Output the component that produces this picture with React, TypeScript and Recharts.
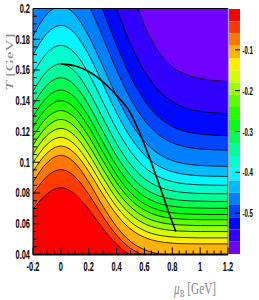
import React from 'react';
import { ComposedChart, Area, Line, XAxis, YAxis, CartesianGrid, ReferenceLine, BarChart, Bar } from 'recharts';

// mu_B grid [GeV]
const MU = [-0.2, -0.1, 0, 0.1, 0.2, 0.3, 0.4, 0.5, 0.6, 0.7, 0.8, 0.9, 1.0, 1.1, 1.2];

// contour lines T(mu) [GeV], from lowest level (red side) to highest (violet side)
const C1 = [0.0694, 0.0794, 0.0834, 0.0794, 0.0694, 0.0572, 0.0467, 0.0396, 0.0357, 0.0339, 0.0333, 0.0331, 0.033, 0.033, 0.033];
const C2 = [0.0791, 0.0907, 0.0952, 0.0907, 0.0791, 0.065, 0.0526, 0.0441, 0.0394, 0.0372, 0.0364, 0.0361, 0.036, 0.036, 0.036];
const C3 = [0.0871, 0.0996, 0.1045, 0.0996, 0.0871, 0.0717, 0.0581, 0.0485, 0.0431, 0.0405, 0.0395, 0.0391, 0.039, 0.039, 0.039];
const C4 = [0.094, 0.1059, 0.1105, 0.1059, 0.094, 0.0793, 0.066, 0.0566, 0.0512, 0.0485, 0.0474, 0.047, 0.0469, 0.0469, 0.0469];
const C5 = [0.0996, 0.1116, 0.1162, 0.1116, 0.0996, 0.0847, 0.0711, 0.0613, 0.0555, 0.0526, 0.0514, 0.051, 0.0508, 0.0508, 0.0508];
const C6 = [0.1054, 0.1174, 0.122, 0.1174, 0.1054, 0.0903, 0.0764, 0.0662, 0.0601, 0.057, 0.0556, 0.0551, 0.0549, 0.0549, 0.0549];
const C7 = [0.1111, 0.1232, 0.1278, 0.1232, 0.1111, 0.0958, 0.0816, 0.071, 0.0645, 0.0611, 0.0596, 0.0591, 0.0588, 0.0588, 0.0588];
const C8 = [0.1168, 0.129, 0.1336, 0.129, 0.1168, 0.1013, 0.0867, 0.0757, 0.0689, 0.0652, 0.0635, 0.0629, 0.0626, 0.0626, 0.0626];
const C9 = [0.1229, 0.1353, 0.14, 0.1353, 0.1229, 0.107, 0.0918, 0.0803, 0.0729, 0.069, 0.0671, 0.0664, 0.0661, 0.066, 0.066];
const C10 = [0.1296, 0.1422, 0.147, 0.1422, 0.1296, 0.1133, 0.0977, 0.0856, 0.0778, 0.0734, 0.0714, 0.0705, 0.0702, 0.0701, 0.0701];
const C11 = [0.1372, 0.1501, 0.155, 0.1501, 0.1372, 0.1204, 0.1041, 0.0914, 0.083, 0.0783, 0.076, 0.075, 0.0747, 0.0745, 0.0745];
const C12 = [0.1461, 0.1591, 0.164, 0.1591, 0.1461, 0.129, 0.1121, 0.0986, 0.0894, 0.0841, 0.0814, 0.0802, 0.0797, 0.0795, 0.0795];
const C13 = [0.1575, 0.171, 0.176, 0.171, 0.1575, 0.1396, 0.1217, 0.1071, 0.0968, 0.0907, 0.0874, 0.0859, 0.0853, 0.0851, 0.085];
const C14 = [0.1699, 0.1838, 0.189, 0.1838, 0.1699, 0.1512, 0.1321, 0.1162, 0.1048, 0.0977, 0.0939, 0.092, 0.0912, 0.0909, 0.0908];
const C15 = [0.1821, 0.1963, 0.2015, 0.1963, 0.1821, 0.1628, 0.1429, 0.126, 0.1135, 0.1056, 0.1011, 0.0989, 0.0979, 0.0975, 0.0973];
const C16 = [0.2024, 0.2175, 0.223, 0.2175, 0.2024, 0.1817, 0.1601, 0.1413, 0.1273, 0.118, 0.1127, 0.1099, 0.1086, 0.1081, 0.1078];
const C17 = [0.2213, 0.2372, 0.243, 0.2372, 0.2213, 0.1994, 0.1763, 0.1558, 0.1402, 0.1296, 0.1233, 0.1199, 0.1183, 0.1176, 0.1172];
const C18 = [0.2488, 0.2658, 0.272, 0.2658, 0.2488, 0.225, 0.1997, 0.1769, 0.1591, 0.1469, 0.1394, 0.1352, 0.1331, 0.1322, 0.1316];
const C19 = [0.2952, 0.3134, 0.32, 0.3134, 0.2952, 0.2693, 0.2407, 0.214, 0.189, 0.172, 0.162, 0.157, 0.1545, 0.1532, 0.1523];
const CONTOURS = [C1, C2, C3, C4, C5, C6, C7, C8, C9, C10, C11, C12, C13, C14, C15, C16, C17, C18, C19];

// band colours from level 0 (red, top of colour bar) to -0.6 (violet)
const BAND_COLORS = [
  '#ff0000', '#ff3b00', '#ff7700', '#ffb200', '#ffee00',
  '#d4ff00', '#99ff00', '#5eff00', '#22ff00', '#00ff19',
  '#00ff55', '#00ff99', '#00ffcc', '#00f7ff', '#00bbff',
  '#0080ff', '#0044ff', '#0008ff', '#3300ff', '#7000ff',
];

// thick black curve
const THICK_MU = [0, 0.1, 0.2, 0.3, 0.4, 0.5, 0.6, 0.7, 0.8, 0.825];
const THICK_T = [0.164, 0.1627, 0.159, 0.1525, 0.1435, 0.132, 0.1115, 0.087, 0.061, 0.055];

const X_MAJOR = [-0.2, 0, 0.2, 0.4, 0.6, 0.8, 1, 1.2];
const X_TICKS = [-0.2, -0.15, -0.1, -0.05, 0, 0.05, 0.1, 0.15, 0.2, 0.25, 0.3, 0.35, 0.4, 0.45, 0.5, 0.55, 0.6, 0.65, 0.7, 0.75, 0.8, 0.85, 0.9, 0.95, 1, 1.05, 1.1, 1.15, 1.2];
const Y_MAJOR = [0.04, 0.06, 0.08, 0.1, 0.12, 0.14, 0.16, 0.18, 0.2];
const Y_TICKS = [0.04, 0.045, 0.05, 0.055, 0.06, 0.065, 0.07, 0.075, 0.08, 0.085, 0.09, 0.095, 0.1, 0.105, 0.11, 0.115, 0.12, 0.125, 0.13, 0.135, 0.14, 0.145, 0.15, 0.155, 0.16, 0.165, 0.17, 0.175, 0.18, 0.185, 0.19, 0.195, 0.2];

const CB_LEVELS = [0, -0.03, -0.06, -0.09, -0.12, -0.15, -0.18, -0.21, -0.24, -0.27, -0.3, -0.33, -0.36, -0.39, -0.42, -0.45, -0.48, -0.51, -0.54, -0.57, -0.6];
const CB_TICKS = [-0.1, -0.2, -0.3, -0.4, -0.5];

const TICK_FONT = "'Liberation Sans', Arial, sans-serif";
const TITLE_FONT = "'Liberation Serif', 'DejaVu Serif', serif";

const near = (a: number, b: number) => Math.abs(a - b) < 1e-6;

const rows: any[] = MU.map((mu, i) => {
  const r: any = { mu };
  CONTOURS.forEach((c, k) => { r['c' + (k + 1)] = c[i]; });
  return r;
});
THICK_MU.forEach((mu, j) => {
  const ex = rows.find((r) => near(r.mu, mu));
  if (ex) ex.thick = THICK_T[j];
  else rows.push({ mu, thick: THICK_T[j] });
});
rows.sort((a, b) => a.mu - b.mu);

const cbRow: any = { name: 'cb' };
for (let j = 0; j < CB_LEVELS.length - 1; j++) cbRow['b' + j] = CB_LEVELS[j + 1] - CB_LEVELS[j];
const cbData = [cbRow];

function XTick(props: any) {
  const { x, y, payload } = props;
  const v = payload.value;
  const major = X_MAJOR.some((m) => near(m, v));
  return (
    <g>
      <line x1={x} x2={x} y1={y} y2={y - (major ? 7 : 4)} stroke="#000" strokeWidth={1} />
      {major && (
        <text transform={`translate(${x},${y + 16.5}) scale(0.62,1)`} textAnchor="middle" fontSize={12} fontWeight="bold" fontFamily={TICK_FONT} fill="#000">
          {String(v)}
        </text>
      )}
    </g>
  );
}

function YTick(props: any) {
  const { x, y, payload } = props;
  const v = payload.value;
  const major = Y_MAJOR.some((m) => near(m, v));
  return (
    <g>
      <line x1={x} x2={x + (major ? 7 : 4)} y1={y} y2={y} stroke="#000" strokeWidth={1} />
      {major && (
        <text transform={`translate(${x - 3},${y + 4.3}) scale(0.62,1)`} textAnchor="end" fontSize={12} fontWeight="bold" fontFamily={TICK_FONT} fill="#000">
          {String(v)}
        </text>
      )}
    </g>
  );
}

function CbTick(props: any) {
  const { x, y, payload } = props;
  return (
    <g>
      <line x1={x - 5} x2={x} y1={y} y2={y} stroke="#000" strokeWidth={1} />
      <text transform={`translate(${x + 2.5},${y + 4}) scale(0.55,1)`} textAnchor="start" fontSize={11} fontWeight="bold" fontFamily={TICK_FONT} fill="#000">
        {String(payload.value)}
      </text>
    </g>
  );
}

export default function App() {
  const areas = [];
  for (let k = CONTOURS.length; k >= 1; k--) {
    areas.push(
      <Area
        key={'c' + k}
        dataKey={'c' + k}
        type="monotone"
        stroke="#000"
        strokeWidth={0.8}
        fill={BAND_COLORS[k - 1]}
        fillOpacity={1}
        dot={false}
        activeDot={false}
        connectNulls
        isAnimationActive={false}
      />
    );
  }
  return (
    <div style={{ position: 'absolute', left: 0, top: 0, width: 259, height: 300, background: '#fff' }}>
      <div style={{ position: 'absolute', left: 0, top: 0 }}>
        <ComposedChart width={259} height={300} data={rows} margin={{ top: 8.5, right: 31, bottom: 15.5, left: 8 }}>
          <CartesianGrid horizontal={false} vertical={false} fill={BAND_COLORS[19]} />
          {areas}
          <Line dataKey="thick" type="monotone" stroke="#000" strokeWidth={1.6} dot={false} activeDot={false} connectNulls isAnimationActive={false} />
          <ReferenceLine y={0.2} stroke="#000" strokeWidth={1} />
          <ReferenceLine x={1.2} stroke="#555" strokeWidth={1} />
          <XAxis
            type="number"
            dataKey="mu"
            domain={[-0.2, 1.2]}
            ticks={X_TICKS}
            interval={0}
            allowDataOverflow
            height={30}
            tickSize={0}
            tickMargin={0}
            tickLine={false}
            axisLine={{ stroke: '#000', strokeWidth: 2 }}
            tick={<XTick />}
          />
          <YAxis
            type="number"
            domain={[0.04, 0.2]}
            ticks={Y_TICKS}
            interval={0}
            allowDataOverflow
            width={25}
            tickSize={0}
            tickMargin={0}
            tickLine={false}
            axisLine={{ stroke: '#000', strokeWidth: 1 }}
            tick={<YTick />}
          />
        </ComposedChart>
      </div>
      <div style={{ position: 'absolute', left: 229, top: 0 }}>
        <BarChart width={30} height={300} data={cbData} margin={{ top: 9, right: 0, bottom: 46, left: 0 }} barCategoryGap={0} barGap={0}>
          {BAND_COLORS.map((c, j) => (
            <Bar key={'b' + j} dataKey={'b' + j} stackId="s" fill={c} isAnimationActive={false} />
          ))}
          <XAxis dataKey="name" hide />
          <YAxis
            orientation="right"
            type="number"
            domain={[-0.6, 0]}
            ticks={CB_TICKS}
            interval={0}
            allowDataOverflow
            width={19}
            tickSize={0}
            tickMargin={0}
            tickLine={false}
            axisLine={false}
            tick={<CbTick />}
          />
        </BarChart>
      </div>
      <svg width={259} height={300} style={{ position: 'absolute', left: 0, top: 0, pointerEvents: 'none' }}>
        <text transform="translate(12.5,62) scale(0.6,1) rotate(-90)" textAnchor="middle" fontSize={17} fontFamily={TITLE_FONT} fill="#888">
          <tspan fontStyle="italic">T</tspan>
          <tspan> [GeV]</tspan>
        </text>
        <text transform="translate(216,294) scale(0.66,1)" textAnchor="end" fontSize={17} fontFamily={TITLE_FONT} fill="#888">
          <tspan fontStyle="italic">μ</tspan>
          <tspan fontSize={11} dy={3}>B</tspan>
          <tspan dy={-3}> [GeV]</tspan>
        </text>
      </svg>
    </div>
  );
}
